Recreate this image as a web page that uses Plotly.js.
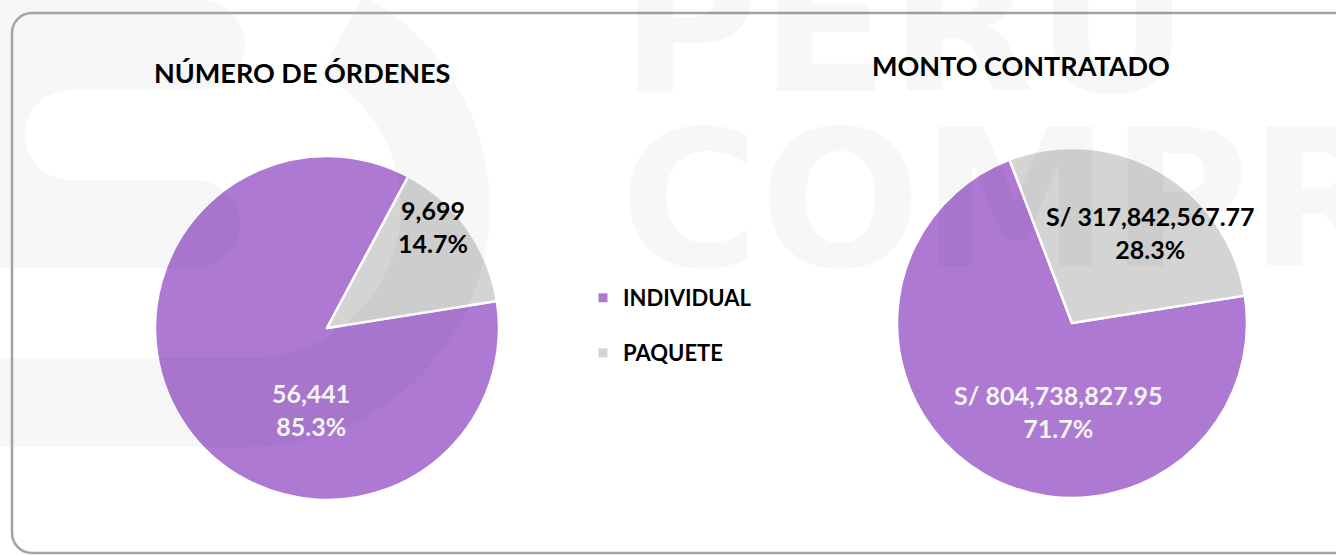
<!DOCTYPE html>
<html>
<head>
<meta charset="utf-8">
<script src="https://cdn.plot.ly/plotly-3.0.1.min.js"></script>
<style>
  html, body { margin: 0; padding: 0; background: #ffffff; overflow: hidden; }
  #chart { width: 1336px; height: 556px; }
</style>
</head>
<body>
<div id="chart"></div>
<script>
// ---- data ----
const categories = ['INDIVIDUAL', 'PAQUETE'];
const ordenes = [56441, 9699];
const monto = [804738827.95, 317842567.77];
const chartTitles = ['NÚMERO DE ÓRDENES', 'MONTO CONTRATADO'];
const watermarkWords = ['PERU', 'COMPR'];

// ---- style ----
const sliceColors = ['#AE79D3', '#D4D4D4'];
const labelColors = ['#F4F4F4', '#000000'];
const FONT = 'Lato, "Open Sans", sans-serif';
const W = 1336, H = 556;
const K = 0.5523;
const WM = 'rgba(0,0,0,0.033)';

function px(x) { return x / W; }
function py(y) { return (H - y) / H; }

// ---- label texts built from the data ----
function pctText(v, arr) {
  const s = arr.reduce((a, b) => a + b, 0);
  return (100 * v / s).toFixed(1) + '%';
}
function fmtInt(v) { return v.toLocaleString('en-US', { maximumFractionDigits: 0 }); }
function fmtMoney(v) {
  return 'S/ ' + v.toLocaleString('en-US', { minimumFractionDigits: 2, maximumFractionDigits: 2 });
}
// label anchor points (layout, pixels)
const leftLabelPos = [[311, 409], [433, 226]];
const rightLabelPos = [[1058, 411], [1150, 232]];

// ---- decorative watermark logo ----
function band(x0, xr, t, b) {
  const h = (b - t) / 2, yc = (t + b) / 2;
  return `M${x0},${t} L${xr},${t} C${xr + K*h},${t} ${xr + h},${yc - K*h} ${xr + h},${yc} ` +
         `C${xr + h},${yc + K*h} ${xr + K*h},${b} ${xr},${b} L${x0},${b} Z `;
}
function connector(x0, xe, t, b) {
  const h = (b - t) / 2, yc = (t + b) / 2;
  return `M${x0},${t} L${xe},${t} C${xe - K*h},${t} ${xe - h},${yc - K*h} ${xe - h},${yc} ` +
         `C${xe - h},${yc + K*h} ${xe - K*h},${b} ${xe},${b} L${x0},${b} Z `;
}
function arcSeg(cx, cy, r, a0d, a1d) {
  const a0 = a0d * Math.PI / 180, a1 = a1d * Math.PI / 180;
  const k = 4 / 3 * Math.tan((a1 - a0) / 4);
  const p0 = [cx + r * Math.cos(a0), cy + r * Math.sin(a0)];
  const p3 = [cx + r * Math.cos(a1), cy + r * Math.sin(a1)];
  const p1 = [p0[0] - k * r * Math.sin(a0), p0[1] + k * r * Math.cos(a0)];
  const p2 = [p3[0] + k * r * Math.sin(a1), p3[1] - k * r * Math.cos(a1)];
  return `C${p1[0].toFixed(1)},${p1[1].toFixed(1)} ${p2[0].toFixed(1)},${p2[1].toFixed(1)} ${p3[0].toFixed(1)},${p3[1].toFixed(1)} `;
}
function ringArc(cx, cy, R, r, a0, a1) {
  const am = (a0 + a1) / 2;
  const s = `M${(cx + R * Math.cos(a0 * Math.PI / 180)).toFixed(1)},${(cy + R * Math.sin(a0 * Math.PI / 180)).toFixed(1)} `;
  return s + arcSeg(cx, cy, R, a0, am) + arcSeg(cx, cy, R, am, a1) +
    `L${(cx + r * Math.cos(a1 * Math.PI / 180)).toFixed(1)},${(cy + r * Math.sin(a1 * Math.PI / 180)).toFixed(1)} ` +
    arcSeg(cx, cy, r, a1, am) + arcSeg(cx, cy, r, am, a0) + 'Z ';
}
const logoPath =
  band(-10, 200, 0, 90) +
  connector(-10, 70, 90, 180) +
  band(-10, 196, 180, 268) +
  band(-10, 250, 358, 447) +
  ringArc(250, 207, 240, 151, -62, 90);

const R = 20;
const borderPath = `M${W + 10},13 L${12 + R},13 C${12 + R*(1-K)},13 12,${13 + R*(1-K)} 12,${13 + R} ` +
  `L12,${553 - R} C12,${553 - R*(1-K)} ${12 + R*(1-K)},553 ${12 + R},553 L${W + 10},553`;

const pieCommon = {
  type: 'pie',
  labels: categories,
  sort: false,
  direction: 'clockwise',
  rotation: 81,
  showlegend: false,
  hoverinfo: 'skip',
  textinfo: 'none',
  textposition: 'none',
  marker: { colors: sliceColors, line: { color: '#FFFFFF', width: 2.5 } }
};

const traces = [
  Object.assign({}, pieCommon, {
    values: ordenes,
    domain: { x: [px(327 - 172), px(327 + 172)], y: [py(328 + 172), py(328 - 172)] }
  }),
  Object.assign({}, pieCommon, {
    values: monto,
    domain: { x: [px(1072 - 175), px(1072 + 175)], y: [py(323 + 175), py(323 - 175)] }
  }),
  {
    type: 'scatter', mode: 'markers', x: [null], y: [null],
    name: categories[0], legend: 'legend', hoverinfo: 'skip',
    marker: { symbol: 'square', size: 9, color: sliceColors[0] }
  },
  {
    type: 'scatter', mode: 'markers', x: [null], y: [null],
    name: categories[1], legend: 'legend2', hoverinfo: 'skip',
    marker: { symbol: 'square', size: 9, color: sliceColors[1] }
  }
];

const legendFont = { family: FONT, size: 22, color: '#000000', weight: 'bold' };

const annotations = [
  { xref: 'x', yref: 'y', x: 618, y: 25, xanchor: 'left', yanchor: 'middle',
    text: watermarkWords[0], showarrow: false,
    font: { family: '"DejaVu Sans", sans-serif', size: 190, color: WM, weight: 'bold' } },
  { xref: 'x', yref: 'y', x: 618, y: 200, xanchor: 'left', yanchor: 'middle',
    text: watermarkWords[1], showarrow: false,
    font: { family: '"DejaVu Sans", sans-serif', size: 190, color: WM, weight: 'bold' } },
  { xref: 'x', yref: 'y', x: 302, y: 72, xanchor: 'center', yanchor: 'middle',
    text: '<b>' + chartTitles[0] + '</b>', showarrow: false,
    font: { family: FONT, size: 27, color: '#000000' } },
  { xref: 'x', yref: 'y', x: 1021, y: 65, xanchor: 'center', yanchor: 'middle',
    text: '<b>' + chartTitles[1] + '</b>', showarrow: false,
    font: { family: FONT, size: 27, color: '#000000' } }
];

categories.forEach(function (c, i) {
  annotations.push({
    xref: 'x', yref: 'y', x: leftLabelPos[i][0], y: leftLabelPos[i][1],
    xanchor: 'center', yanchor: 'middle', showarrow: false, align: 'center',
    text: '<b>' + fmtInt(ordenes[i]) + '<br>' + pctText(ordenes[i], ordenes) + '</b>',
    font: { family: FONT, size: 25, color: labelColors[i] }
  });
  annotations.push({
    xref: 'x', yref: 'y', x: rightLabelPos[i][0], y: rightLabelPos[i][1],
    xanchor: 'center', yanchor: 'middle', showarrow: false, align: 'center',
    text: '<b>' + fmtMoney(monto[i]) + '<br>' + pctText(monto[i], monto) + '</b>',
    font: { family: FONT, size: 25, color: labelColors[i] }
  });
});

const layout = {
  width: W, height: H,
  margin: { l: 0, r: 0, t: 0, b: 0 },
  paper_bgcolor: '#FFFFFF',
  plot_bgcolor: 'rgba(0,0,0,0)',
  font: { family: FONT },
  hovermode: false,
  xaxis: { range: [0, W], visible: false, fixedrange: true },
  yaxis: { range: [H, 0], visible: false, fixedrange: true },
  legend: {
    x: px(583), y: py(298), xanchor: 'left', yanchor: 'middle',
    bgcolor: 'rgba(0,0,0,0)', font: legendFont, itemclick: false, itemdoubleclick: false
  },
  legend2: {
    x: px(583), y: py(353), xanchor: 'left', yanchor: 'middle',
    bgcolor: 'rgba(0,0,0,0)', font: legendFont, itemclick: false, itemdoubleclick: false
  },
  shapes: [
    { type: 'path', xref: 'x', yref: 'y', path: logoPath, fillcolor: WM,
      line: { width: 0 }, layer: 'above', fillrule: 'nonzero' },
    { type: 'path', xref: 'x', yref: 'y', path: borderPath,
      line: { color: '#A3A3A3', width: 2.5 }, layer: 'above' }
  ],
  annotations: annotations
};

Plotly.newPlot('chart', traces, layout, { displayModeBar: false, responsive: false });
</script>
</body>
</html>
